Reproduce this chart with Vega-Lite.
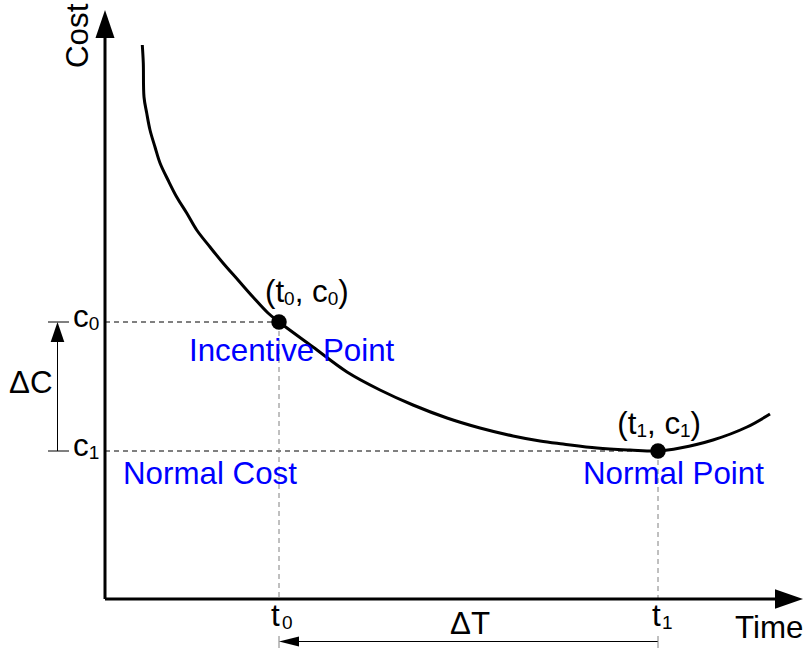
{
  "$schema": "https://vega.github.io/schema/vega-lite/v6.json",
  "width": 804,
  "height": 651,
  "padding": 0,
  "autosize": {"type": "none"},
  "background": "white",
  "config": {"view": {"stroke": null}},
  "datasets": {
    "axes": [
      {"T": 0, "C": 0, "T2": 0, "C2": 56.5},
      {"T": 0, "C": 0, "T2": 67.3, "C2": 0}
    ],
    "hdash": [
      {"T": 0, "C": 27.7, "T2": 17.4, "C2": 27.7},
      {"T": 0, "C": 14.8, "T2": 55.3, "C2": 14.8}
    ],
    "vdash": [
      {"T": 17.4, "C": 27.7, "T2": 17.4, "C2": 0},
      {"T": 55.3, "C": 14.8, "T2": 55.3, "C2": 0}
    ],
    "dimlines": [
      {"T": -4.75, "C": 14.8, "T2": -4.75, "C2": 26.0},
      {"T": -5.7, "C": 27.7, "T2": -3.6, "C2": 27.7},
      {"T": -5.7, "C": 14.8, "T2": -3.6, "C2": 14.8},
      {"T": 19.0, "C": -4.25, "T2": 55.3, "C2": -4.25}
    ],
    "dimticks": [
      {"T": 17.4, "C": -3.7, "T2": 17.4, "C2": -4.9},
      {"T": 55.3, "C": -3.7, "T2": 55.3, "C2": -4.9}
    ],
    "curve": [
      {"i": 1, "T": 3.73, "C": 55.4}, {"i": 2, "T": 3.83, "C": 53.6}, {"i": 3, "T": 3.9, "C": 50.2},
      {"i": 4, "T": 4.17, "C": 48.6}, {"i": 5, "T": 4.5, "C": 46.9}, {"i": 6, "T": 5.0, "C": 45.2},
      {"i": 7, "T": 5.5, "C": 43.6}, {"i": 8, "T": 6.3, "C": 41.9}, {"i": 9, "T": 7.17, "C": 40.2},
      {"i": 10, "T": 8.17, "C": 38.6}, {"i": 11, "T": 9.17, "C": 36.9}, {"i": 12, "T": 10.5, "C": 35.2},
      {"i": 13, "T": 11.8, "C": 33.6}, {"i": 14, "T": 13.3, "C": 31.9}, {"i": 15, "T": 14.8, "C": 30.2},
      {"i": 16, "T": 16.3, "C": 28.6}, {"i": 17, "T": 17.4, "C": 27.7},
      {"i": 18, "T": 20.8, "C": 25.2}, {"i": 19, "T": 24.2, "C": 22.7}, {"i": 20, "T": 27.5, "C": 20.9},
      {"i": 21, "T": 30.8, "C": 19.4}, {"i": 22, "T": 34.2, "C": 18.1}, {"i": 23, "T": 37.5, "C": 17.1},
      {"i": 24, "T": 40.8, "C": 16.3}, {"i": 25, "T": 43.5, "C": 15.8}, {"i": 26, "T": 45.8, "C": 15.5},
      {"i": 27, "T": 49.2, "C": 15.1}, {"i": 28, "T": 52.5, "C": 14.9}, {"i": 29, "T": 55.3, "C": 14.8},
      {"i": 30, "T": 57.5, "C": 15.1}, {"i": 31, "T": 60.8, "C": 15.9}, {"i": 32, "T": 64.2, "C": 17.2},
      {"i": 33, "T": 66.5, "C": 18.5}
    ],
    "points": [
      {"T": 17.4, "C": 27.7}, {"T": 55.3, "C": 14.8}
    ],
    "main": [
      {"T": 16.0, "C": 29.7, "text": "(t"},
      {"T": 18.97, "C": 29.7, "text": ", c"},
      {"T": 23.33, "C": 29.7, "text": ")"},
      {"T": 51.23, "C": 16.5, "text": "(t"},
      {"T": 54.2, "C": 16.5, "text": ", c"},
      {"T": 58.56, "C": 16.5, "text": ")"},
      {"T": -3.2, "C": 27.2, "text": "c"},
      {"T": -3.2, "C": 14.3, "text": "c"},
      {"T": 16.6, "C": -2.7, "text": "t"},
      {"T": 54.7, "C": -2.7, "text": "t"},
      {"T": -9.6, "C": 20.6, "text": "ΔC"},
      {"T": 34.5, "C": -3.5, "text": "ΔT"},
      {"T": 63.0, "C": -3.9, "text": "Time"}
    ],
    "subs": [
      {"T": 17.91, "C": 29.4, "text": "0"},
      {"T": 22.27, "C": 29.4, "text": "0"},
      {"T": 53.14, "C": 16.2, "text": "1"},
      {"T": 57.5, "C": 16.2, "text": "1"},
      {"T": -1.63, "C": 26.9, "text": "0"},
      {"T": -1.63, "C": 14.0, "text": "1"},
      {"T": 17.7, "C": -3.0, "text": "0"},
      {"T": 55.7, "C": -3.0, "text": "1"}
    ],
    "blue": [
      {"T": 8.4, "C": 23.8, "text": "Incentive Point"},
      {"T": 1.8, "C": 11.5, "text": "Normal Cost"},
      {"T": 47.8, "C": 11.5, "text": "Normal Point"}
    ],
    "ylabel": [
      {"T": -1.7, "C": 53.1, "text": "Cost"}
    ],
    "arrowUp": [{"T": 0, "C": 58.9}],
    "arrowRight": [{"T": 69.8, "C": 0}],
    "arrowDC": [{"T": -4.75, "C": 27.7}],
    "arrowDT": [{"T": 17.4, "C": -4.25}]
  },
  "encoding": {
    "x": {"field": "T", "type": "quantitative", "scale": {"domain": [-10.5, 69.9], "nice": false, "zero": false}, "axis": null},
    "y": {"field": "C", "type": "quantitative", "scale": {"domain": [-5.2, 59.9], "nice": false, "zero": false}, "axis": null}
  },
  "layer": [
    {
      "data": {"name": "hdash"},
      "mark": {"type": "rule", "color": "black", "strokeWidth": 1, "strokeDash": [5, 4]},
      "encoding": {"x2": {"field": "T2"}, "y2": {"field": "C2"}}
    },
    {
      "data": {"name": "vdash"},
      "mark": {"type": "rule", "color": "#808080", "strokeWidth": 1, "strokeDash": [5, 4]},
      "encoding": {"x2": {"field": "T2"}, "y2": {"field": "C2"}}
    },
    {
      "data": {"name": "dimlines"},
      "mark": {"type": "rule", "color": "black", "strokeWidth": 1},
      "encoding": {"x2": {"field": "T2"}, "y2": {"field": "C2"}}
    },
    {
      "data": {"name": "dimticks"},
      "mark": {"type": "rule", "color": "#808080", "strokeWidth": 1},
      "encoding": {"x2": {"field": "T2"}, "y2": {"field": "C2"}}
    },
    {
      "data": {"name": "axes"},
      "mark": {"type": "rule", "color": "black", "strokeWidth": 3},
      "encoding": {"x2": {"field": "T2"}, "y2": {"field": "C2"}}
    },
    {
      "data": {"name": "curve"},
      "mark": {"type": "line", "color": "black", "strokeWidth": 3, "interpolate": "catmull-rom"},
      "encoding": {"order": {"field": "i", "type": "quantitative"}}
    },
    {
      "data": {"name": "points"},
      "mark": {"type": "point", "shape": "circle", "filled": true, "color": "black", "opacity": 1, "size": 240}
    },
    {
      "data": {"name": "arrowUp"},
      "mark": {"type": "point", "shape": "M0,0L-0.68,2L0.68,2Z", "filled": true, "color": "black", "opacity": 1, "size": 784, "strokeWidth": 0}
    },
    {
      "data": {"name": "arrowRight"},
      "mark": {"type": "point", "shape": "M0,0L-2,-0.7L-2,0.7Z", "filled": true, "color": "black", "opacity": 1, "size": 784, "strokeWidth": 0}
    },
    {
      "data": {"name": "arrowDC"},
      "mark": {"type": "point", "shape": "M0,0L-0.68,2L0.68,2Z", "filled": true, "color": "black", "opacity": 1, "size": 400, "strokeWidth": 0}
    },
    {
      "data": {"name": "arrowDT"},
      "mark": {"type": "point", "shape": "M0,0L2,-0.5L2,0.5Z", "filled": true, "color": "black", "opacity": 1, "size": 400, "strokeWidth": 0}
    },
    {
      "data": {"name": "main"},
      "mark": {"type": "text", "font": "Liberation Sans", "fontSize": 31.3, "color": "black", "align": "left", "baseline": "alphabetic"},
      "encoding": {"text": {"field": "text"}}
    },
    {
      "data": {"name": "subs"},
      "mark": {"type": "text", "font": "Liberation Sans", "fontSize": 19, "color": "black", "align": "left", "baseline": "alphabetic"},
      "encoding": {"text": {"field": "text"}}
    },
    {
      "data": {"name": "blue"},
      "mark": {"type": "text", "font": "Liberation Sans", "fontSize": 31.3, "color": "#0000ff", "align": "left", "baseline": "alphabetic"},
      "encoding": {"text": {"field": "text"}}
    },
    {
      "data": {"name": "ylabel"},
      "mark": {"type": "text", "font": "Liberation Sans", "fontSize": 31.3, "color": "black", "align": "left", "baseline": "alphabetic", "angle": 270},
      "encoding": {"text": {"field": "text"}}
    }
  ]
}
